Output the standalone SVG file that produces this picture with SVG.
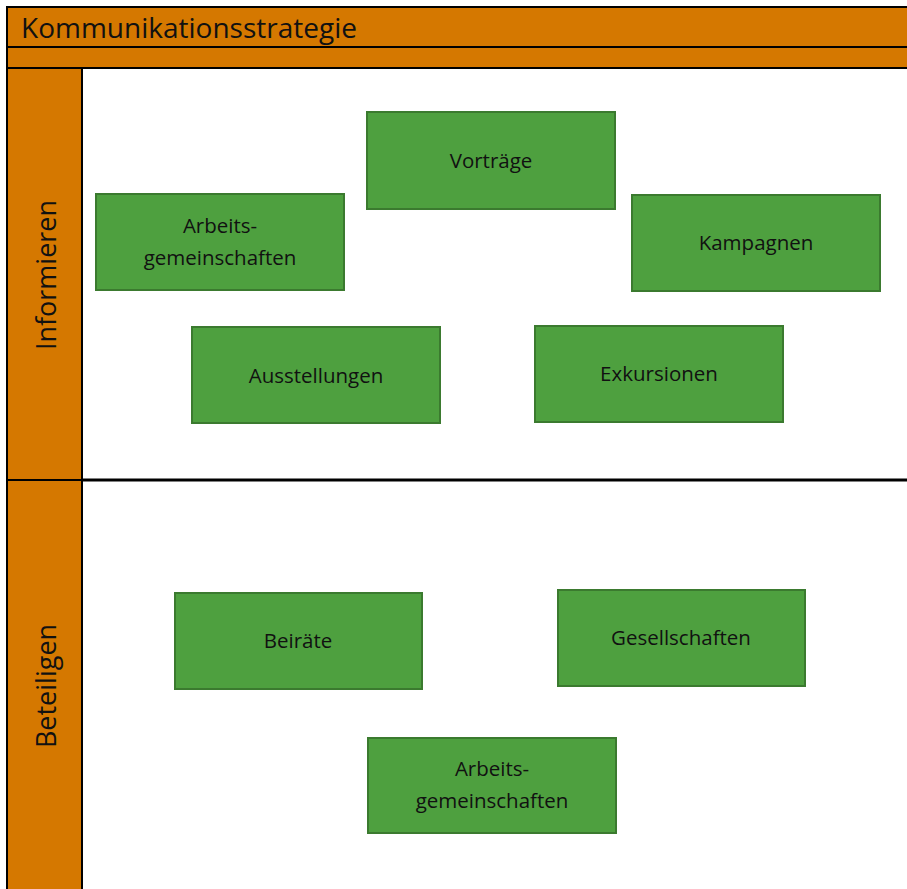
<svg xmlns="http://www.w3.org/2000/svg" width="907" height="889" viewBox="0 0 907 889">
<style>
.bar{fill:#D57800;stroke:#000;stroke-width:2}
.node rect{fill:#4EA03F;stroke:#3B7A2F;stroke-width:2}
.node text{font-family:"Open Sans","Noto Sans",sans-serif;font-size:20.5px;fill:#111;text-anchor:middle}
.title{font-family:"Open Sans","Noto Sans",sans-serif;font-size:28px;fill:#111}
.lane{font-family:"Open Sans","Noto Sans",sans-serif;font-size:27px;fill:#111;text-anchor:middle}
</style>
<rect width="907" height="889" fill="#fff"/>
<g id="header">
<rect class="bar" x="7" y="7" width="910" height="40"/>
<rect class="bar" x="7" y="47" width="910" height="21"/>
<text class="title" x="21" y="38">Kommunikationsstrategie</text>
</g>
<g id="lane-informieren">
<rect class="bar" x="7" y="68" width="75" height="412"/>
<text class="lane" transform="translate(56,275) rotate(-90)">Informieren</text>
</g>
<g id="lane-beteiligen">
<rect class="bar" x="7" y="480" width="75" height="420"/>
<line x1="82" y1="480" x2="907" y2="480" stroke="#000" stroke-width="3"/>
<text class="lane" transform="translate(56,686) rotate(-90)">Beteiligen</text>
</g>
<g id="connectors"></g>
<g id="n-vortraege" class="node"><rect x="367" y="112" width="248" height="97"/><text x="491" y="168">Vorträge</text></g>
<g id="n-ag1" class="node"><rect x="96" y="194" width="248" height="96"/><text x="220" y="233">Arbeits-</text><text x="220" y="265">gemeinschaften</text></g>
<g id="n-kampagnen" class="node"><rect x="632" y="195" width="248" height="96"/><text x="756" y="250">Kampagnen</text></g>
<g id="n-ausstellungen" class="node"><rect x="192" y="327" width="248" height="96"/><text x="316" y="383">Ausstellungen</text></g>
<g id="n-exkursionen" class="node"><rect x="535" y="326" width="248" height="96"/><text x="659" y="381">Exkursionen</text></g>
<g id="n-beiraete" class="node"><rect x="175" y="593" width="247" height="96"/><text x="298" y="648">Beiräte</text></g>
<g id="n-gesellschaften" class="node"><rect x="558" y="590" width="247" height="96"/><text x="681" y="645">Gesellschaften</text></g>
<g id="n-ag2" class="node"><rect x="368" y="738" width="248" height="95"/><text x="492" y="776">Arbeits-</text><text x="492" y="808">gemeinschaften</text></g>
</svg>
